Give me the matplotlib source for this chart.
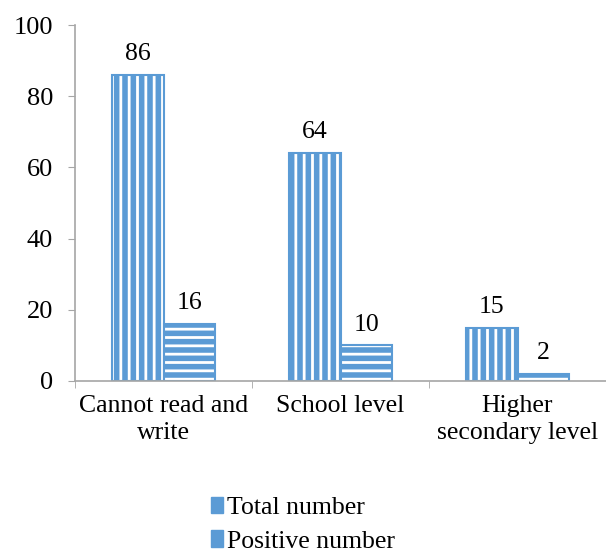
import matplotlib.pyplot as plt
import numpy as np

plt.rcParams['font.family'] = ['Liberation Serif', 'DejaVu Serif']
plt.rcParams['hatch.linewidth'] = 2.0

categories = ['Cannot read and\nwrite', 'School level', 'Higher\nsecondary level']
total_number = [86, 64, 15]
positive_number = [16, 10, 2]

blue = '#5B9BD5'
grey = '#A6A6A6'
fs = 18.5

fig = plt.figure(figsize=(6.06, 5.57), dpi=100)
ax = fig.add_axes([0.124, 0.316, 0.876, 0.639])

x = np.arange(len(categories))
w = 0.29


def striped_bars(xpos, heights, hatch, label):
    # blue fill with white stripes, then a blue outline on top
    ax.bar(xpos, heights, w, color=blue, edgecolor='white', linewidth=0, hatch=hatch)
    ax.bar(xpos, heights, w, fill=False, edgecolor=blue, linewidth=1.5)
    for xi, h in zip(xpos, heights):
        ax.annotate(str(h), (xi, h), xytext=(0, 7), textcoords='offset points',
                    ha='center', va='bottom', fontsize=fs)
    return ax.bar([0], [0], 0, color=blue, edgecolor=blue, linewidth=1,
                  hatch=hatch, label=label)


h1 = striped_bars(x - w / 2, total_number, '||', 'Total number')
h2 = striped_bars(x + w / 2, positive_number, '--', 'Positive number')

ax.set_xlim(-0.5, 2.5)
ax.set_ylim(0, 100)
ax.set_yticks(range(0, 101, 20))
ax.set_xticks(x)
ax.set_xticklabels(categories, fontsize=fs, linespacing=1.3)
ax.set_xticks([-0.5, 0.5, 1.5, 2.5], minor=True)
ax.tick_params(axis='x', which='major', length=0, pad=10)
ax.tick_params(axis='x', which='minor', length=5, color=grey, direction='out')
ax.tick_params(axis='y', length=5, color=grey, labelsize=fs + 0.5, pad=11)

for side in ('top', 'right'):
    ax.spines[side].set_visible(False)
for side in ('left', 'bottom'):
    ax.spines[side].set_color(grey)
    ax.spines[side].set_linewidth(1.2)

fig.legend(handles=[h1, h2], labels=['Total number', 'Positive number'],
           loc='center', bbox_to_anchor=(0.5, 0.058), ncol=1, frameon=False,
           fontsize=fs, handlelength=0.5, handleheight=0.6, handletextpad=0.15,
           labelspacing=0.45, borderpad=0.1)

fig.savefig('out.png', dpi=100)
